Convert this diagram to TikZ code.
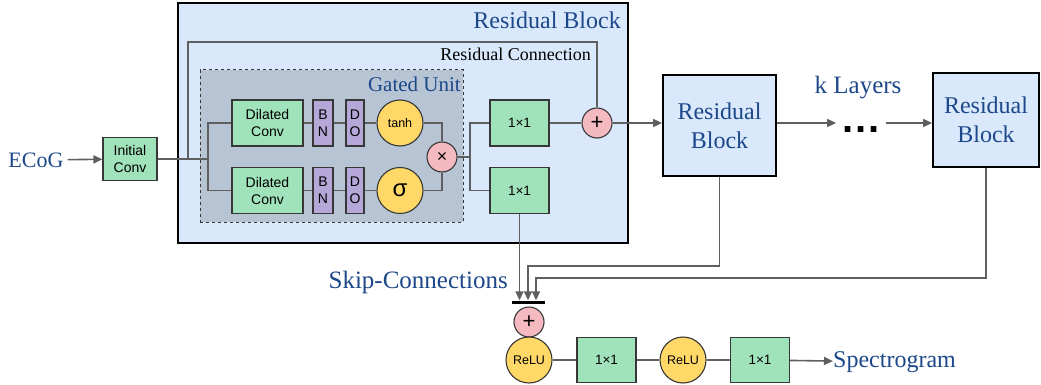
\documentclass[tikz,border=0pt]{standalone}
\usepackage{fontspec}
\setmainfont{Liberation Serif}
\setsansfont{Liberation Sans}
\usepackage{tikz}
\usetikzlibrary{arrows.meta}
\definecolor{convgreen}{RGB}{160,226,185}
\definecolor{normpurple}{RGB}{181,167,216}
\definecolor{actyellow}{RGB}{255,216,104}
\definecolor{oppink}{RGB}{244,186,192}
\definecolor{blockblue}{RGB}{218,232,252}
\definecolor{gatedgray}{RGB}{182,196,212}
\definecolor{titleblue}{RGB}{28,72,138}
\definecolor{wiregray}{RGB}{95,95,95}
\definecolor{boxline}{RGB}{55,55,55}

\begin{document}
\begin{tikzpicture}
    [every node/.style={inner sep=0pt},
     conv/.style={rectangle, fill=convgreen, draw=boxline, line width=1.1pt, align=center, font=\sffamily\fontsize{14}{17}\selectfont},
     norm/.style={rectangle, fill=normpurple, draw=boxline, line width=1.1pt, align=center, minimum height=46pt, font=\sffamily\fontsize{14}{17}\selectfont},
     act/.style={circle, fill=actyellow, draw=boxline, line width=1.1pt, minimum size=46pt, font=\sffamily\fontsize{12.5}{14}\selectfont},
     op/.style={circle, fill=oppink, draw=boxline, line width=1.1pt, minimum size=30pt, font=\sffamily\fontsize{22}{22}\selectfont},
     resblock/.style={rectangle, fill=blockblue, draw=black, line width=1.8pt, align=center, text=titleblue, font=\fontsize{24}{29}\selectfont},
     title/.style={text=titleblue, font=\fontsize{24}{29}\selectfont},
     wire/.style={line width=1.6pt, color=wiregray},
     arr/.style={wire, -{Triangle[length=9pt, width=8pt]}}]
        \useasboundingbox (0pt, 0pt) rectangle (1041pt, -385pt);
        % first residual block, opened up
        \node (rb1) [rectangle, fill=blockblue, draw=black, line width=2.2pt, minimum width=450pt, minimum height=240pt] at (403.0pt, -123.0pt) {};
        \node (rb1title) [title, anchor=east] at (621.0pt, -20.0pt) {Residual Block};
        \node (rclabel) [anchor=east, font=\fontsize{18}{22}\selectfont] at (591.0pt, -54.0pt) {Residual Connection};
        \node (gu) [rectangle, fill=gatedgray, draw=boxline, dashed, line width=1pt, minimum width=263pt, minimum height=152pt] at (331.5pt, -146.0pt) {};
        \node (gutitle) [title, anchor=east, font=\fontsize{21}{25}\selectfont] at (461.0pt, -84.0pt) {Gated Unit};
        % input
        \node (ecog) [text=titleblue, font=\fontsize{22}{26}\selectfont] at (36.0pt, -160.0pt) {ECoG};
        \node (init) [conv, minimum width=54pt, minimum height=43pt] at (130.0pt, -159.0pt) {Initial\\Conv};
        % gated unit
        \node (dc1) [conv, minimum width=71pt, minimum height=46pt] at (267.5pt, -123.0pt) {Dilated\\Conv};
        \node (bn1) [norm, minimum width=20pt] at (323.0pt, -123.0pt) {B\\N};
        \node (do1) [norm, minimum width=18pt] at (355.0pt, -123.0pt) {D\\O};
        \node (tanh) [act] at (400.0pt, -123.0pt) {tanh};
        \node (dc2) [conv, minimum width=71pt, minimum height=46pt] at (267.5pt, -190.5pt) {Dilated\\Conv};
        \node (bn2) [norm, minimum width=20pt] at (323.0pt, -190.5pt) {B\\N};
        \node (do2) [norm, minimum width=18pt] at (355.0pt, -190.5pt) {D\\O};
        \node (sig) [act, font=\sffamily\fontsize{24}{24}\selectfont] at (400.0pt, -190.5pt) {σ};
        \node (mul) [op, font=\sffamily\fontsize{18}{18}\selectfont] at (442.0pt, -157.0pt) {×};
        \node (c11a) [conv, minimum width=59pt, minimum height=46pt, font=\sffamily\fontsize{13.5}{15}\selectfont] at (519.5pt, -123.0pt) {1×1};
        \node (c11b) [conv, minimum width=59pt, minimum height=46pt, font=\sffamily\fontsize{13.5}{15}\selectfont] at (519.5pt, -190.5pt) {1×1};
        \node (add1) [op] at (597.0pt, -123.0pt) {+};
        % further blocks
        \node (rb2) [resblock, minimum width=113pt, minimum height=101pt] at (719.5pt, -125.5pt) {Residual\\Block};
        \node (klayers) [title, font=\fontsize{25}{29}\selectfont] at (858.0pt, -88.0pt) {k Layers};
        \node (dots) [font=\sffamily\bfseries\fontsize{40}{40}\selectfont] at (861.0pt, -130.0pt) {.\kern2pt.\kern2pt.};
        \node (rb3) [resblock, minimum width=106pt, minimum height=94pt] at (986.0pt, -120.0pt) {Residual\\Block};
        % skip path
        \node (skiplabel) [title, anchor=east, font=\fontsize{25}{29}\selectfont] at (508.0pt, -282.0pt) {Skip-Connections};
        \node (bar) [rectangle, fill=black, minimum width=33pt, minimum height=3pt] at (528.0pt, -302.0pt) {};
        \node (add2) [op] at (529.0pt, -322.0pt) {+};
        \node (relu1) [act] at (529.0pt, -360.0pt) {ReLU};
        \node (c11c) [conv, minimum width=59pt, minimum height=45pt, font=\sffamily\fontsize{13.5}{15}\selectfont] at (606.5pt, -360.0pt) {1×1};
        \node (relu2) [act] at (683.0pt, -360.0pt) {ReLU};
        \node (c11d) [conv, minimum width=59pt, minimum height=45pt, font=\sffamily\fontsize{13.5}{15}\selectfont] at (760.0pt, -360.0pt) {1×1};
        \node (spec) [title, anchor=west] at (833.0pt, -362.0pt) {Spectrogram};
        \coordinate (split1) at (208.0pt, -159.0pt);
        \coordinate (split2) at (470.0pt, -157.0pt);
        \coordinate (rc) at (188.0pt, -42.0pt);
        \coordinate (sk2) at (528.0pt, -266.0pt);
        \coordinate (sk3) at (536.0pt, -278.0pt);
        % connectors
        \draw [arr, shorten <=4pt] (ecog) to (init);
        \draw [wire] (init) -- (split1) |- (dc1);
        \draw [wire] (split1) |- (dc2);
        \draw [wire] (rc |- init) -- (rc) -| (add1);
        \draw [wire] (dc1) -- (bn1) -- (do1) -- (tanh);
        \draw [wire] (dc2) -- (bn2) -- (do2) -- (sig);
        \draw [wire] (tanh) -| (mul);
        \draw [wire] (sig) -| (mul);
        \draw [wire] (mul) -- (split2) |- (c11a);
        \draw [wire] (split2) |- (c11b);
        \draw [wire] (c11a) -- (add1);
        \draw [arr] (add1) -- (add1 -| rb2.west);
        \draw [arr, shorten >=6pt] (rb2.east |- add1) -- (add1 -| dots.west);
        \draw [arr, shorten <=6pt] (dots.east |- add1) -- (add1 -| rb3.west);
        \draw [arr] (c11b) -- (c11b |- bar.north);
        \draw [arr] (rb2) |- (sk2) -- (sk2 |- bar.north);
        \draw [arr] (rb3) |- (sk3) -- (sk3 |- bar.north);
        \draw [wire] (relu1) -- (c11c) -- (relu2) -- (c11d);
        \draw [arr] (c11d) -- (spec);
    \end{tikzpicture}
\end{document}
